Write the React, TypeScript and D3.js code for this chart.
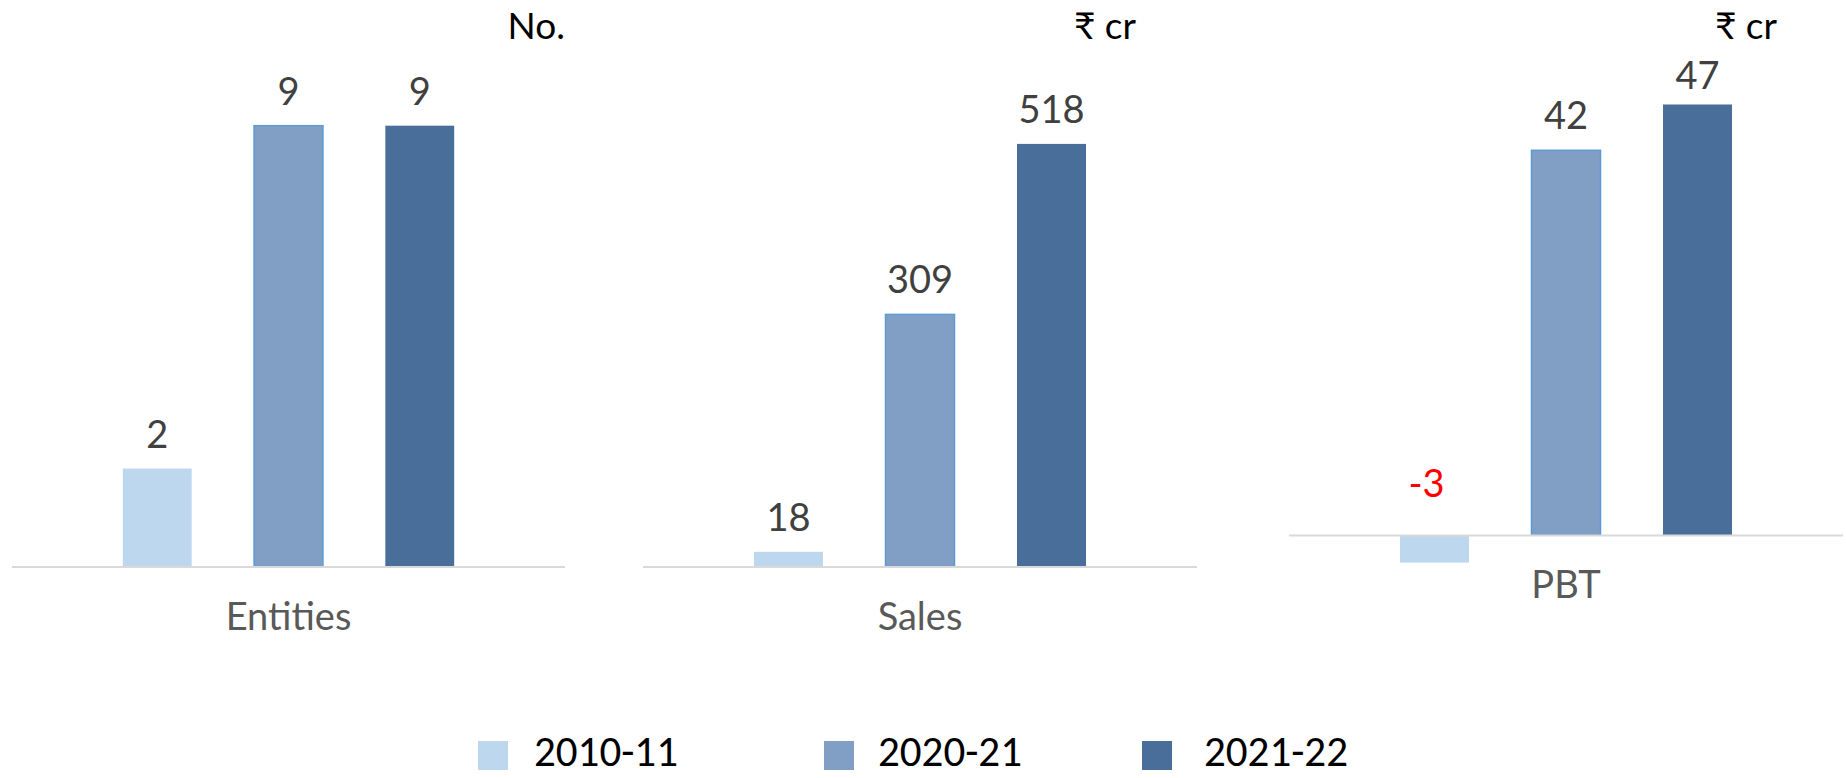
import React from "react";
import * as d3 from "d3";

// ---- data ----
const series = ["2010-11", "2020-21", "2021-22"];
const categories = ["Entities", "Sales", "PBT"];
const units = ["No.", "₹ cr", "₹ cr"];
const entitiesValues = [2, 9, 9];
const salesValues = [18, 309, 518];
const pbtValues = [-3, 42, 47];
const entitiesDomain = [0, 10];
const salesDomain = [0, 600];
const pbtDomain = [-10, 50];

// ---- styles / layout ----
const W = 1846;
const H = 778;
const colors = ["#BDD7EE", "#819FC4", "#4A6E9A"];
const strokes = ["none", "#5B9BD5", "none"];
const labelFont = "Lato, 'Noto Sans', 'DejaVu Sans', sans-serif";

const panels = [
  { name: categories[0], unit: units[0], values: entitiesValues, domain: entitiesDomain, left: 12, right: 565, top: 76.7, bottom: 566.5, unitRight: 565 },
  { name: categories[1], unit: units[1], values: salesValues, domain: salesDomain, left: 643, right: 1197, top: 77, bottom: 566.5, unitRight: 1136 },
  { name: categories[2], unit: units[2], values: pbtValues, domain: pbtDomain, left: 1289, right: 1843, top: 77, bottom: 626.7, unitRight: 1777 },
];

const legendSquareX = [478, 824, 1142];
const legendTextX = [534, 878, 1204];

function Panel({ p }: { p: (typeof panels)[number] }) {
  const x = d3
    .scaleBand<string>()
    .domain(series)
    .range([p.left, p.right])
    .paddingInner(0.4753)
    .paddingOuter(0.844);
  const y = d3.scaleLinear().domain(p.domain).range([p.bottom, p.top]);
  const y0 = y(0);
  const bw = x.bandwidth();
  return (
    <g>
      {p.values.map((v, i) => {
        const x0 = x(series[i])!;
        const top = Math.min(y(v), y0);
        const h = Math.abs(y(v) - y0);
        return (
          <rect
            key={"b" + i}
            x={x0}
            y={top}
            width={bw}
            height={h}
            fill={colors[i]}
            stroke={strokes[i]}
            strokeWidth={strokes[i] === "none" ? 0 : 1.5}
          />
        );
      })}
      <line x1={p.left} x2={p.right} y1={y0 + 0.5} y2={y0 + 0.5} stroke="#D9D9D9" strokeWidth={2} />
      {p.values.map((v, i) => {
        const cx = x(series[i])! + bw / 2;
        const neg = v < 0;
        const ly = neg ? y0 - 38.3 : Math.max(y(v) - 21, 89.3);
        return (
          <text
            key={"l" + i}
            x={neg ? cx - 8 : cx}
            y={ly}
            textAnchor="middle"
            fontFamily={labelFont}
            fontSize={38}
            fill={neg ? "#FF0000" : "#404040"}
          >
            {v}
          </text>
        );
      })}
      <text
        x={(p.left + p.right) / 2}
        y={y0 + 63}
        textAnchor="middle"
        fontFamily={labelFont}
        fontSize={38}
        fill="#595959"
      >
        {p.name}
      </text>
      <text x={p.unitRight} y={39} textAnchor="end" fontFamily={labelFont} fontSize={37} fill="#000000">
        {p.unit}
      </text>
    </g>
  );
}

export default function App() {
  return (
    <svg
      width={W}
      height={H}
      viewBox={`0 0 ${W} ${H}`}
      style={{ position: "absolute", left: 0, top: 0, background: "#ffffff" }}
    >
      <rect x={0} y={0} width={W} height={H} fill="#ffffff" />
      {panels.map((p) => (
        <Panel key={p.name} p={p} />
      ))}
      {series.map((s, i) => (
        <g key={s}>
          <rect x={legendSquareX[i]} y={741} width={30} height={29} fill={colors[i]} />
          <text
            x={legendTextX[i]}
            y={766}
            fontFamily="Carlito, 'Liberation Sans', Arial, sans-serif"
            fontSize={43}
            fill="#000000"
          >
            {s}
          </text>
        </g>
      ))}
    </svg>
  );
}
